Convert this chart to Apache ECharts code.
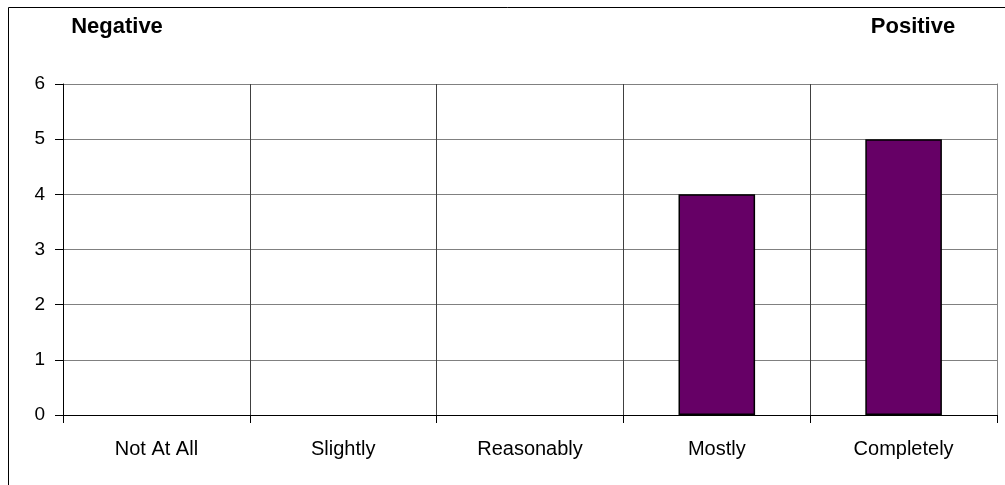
<!DOCTYPE html>
<html>
<head>
<meta charset="utf-8">
<script src="https://cdn.jsdelivr.net/npm/echarts@6/dist/echarts.min.js"></script>
<style>html,body{margin:0;padding:0;background:#fff}#c{width:1005px;height:485px}</style>
</head>
<body>
<div id="c"></div>
<script>
const categories = ['Not At All', 'Slightly', 'Reasonably', 'Mostly', 'Completely'];
const values = [0, 0, 0, 4, 5];
const yTicks = [0, 1, 2, 3, 4, 5, 6];
const leftLabel = 'Negative';
const rightLabel = 'Positive';

const chart = echarts.init(document.getElementById('c'), null, {renderer: 'canvas'});
const font = '"Liberation Sans", Arial, sans-serif';
chart.setOption({
  animation: false,
  backgroundColor: '#fff',
  textStyle: {fontFamily: font},
  graphic: [
    {type: 'rect', shape: {x: 8.5, y: 7.5, width: 1010, height: 500},
     style: {fill: 'none', stroke: '#000', lineWidth: 1}, silent: true},
    {type: 'text', x: 117, y: 16, style: {text: leftLabel, font: 'bold 22px ' + font, fill: '#000', textAlign: 'center'}},
    {type: 'text', x: 913, y: 16, style: {text: rightLabel, font: 'bold 22px ' + font, fill: '#000', textAlign: 'center'}}
  ],
  grid: {left: 63, right: 8, top: 84, bottom: 70, containLabel: false},
  xAxis: {
    type: 'category',
    data: categories,
    boundaryGap: true,
    axisLine: {show: true, lineStyle: {color: '#000', width: 1}},
    axisTick: {show: true, alignWithLabel: false, length: 8, lineStyle: {color: '#000'}},
    axisLabel: {color: '#000', fontSize: 20, fontFamily: font, margin: 24},
    splitLine: {show: true, lineStyle: {color: '#404040', width: 1}}
  },
  yAxis: [{
    type: 'value',
    min: 0, max: 6, interval: 1,
    axisLine: {show: true, lineStyle: {color: '#000', width: 1}},
    axisTick: {show: true, length: 8, lineStyle: {color: '#000'}},
    axisLabel: {color: '#000', fontSize: 19, fontFamily: font, margin: 18,
      formatter: v => yTicks.includes(v) ? String(v) : ''},
    splitLine: {show: true, lineStyle: {color: '#808080', width: 1}}
  }, {
    type: 'value', position: 'right', min: 0, max: 6, interval: 1,
    axisLine: {show: true, lineStyle: {color: '#808080'}},
    axisTick: {show: false}, axisLabel: {show: false}, splitLine: {show: false}
  }],
  series: [{
    type: 'bar',
    data: values.map(v => ({value: v, itemStyle: {borderWidth: v === 0 ? 0 : 1.5}})),
    barWidth: '41%',
    itemStyle: {color: '#660066', borderColor: '#000', borderWidth: 1.5}
  }]
});
</script>
</body>
</html>
